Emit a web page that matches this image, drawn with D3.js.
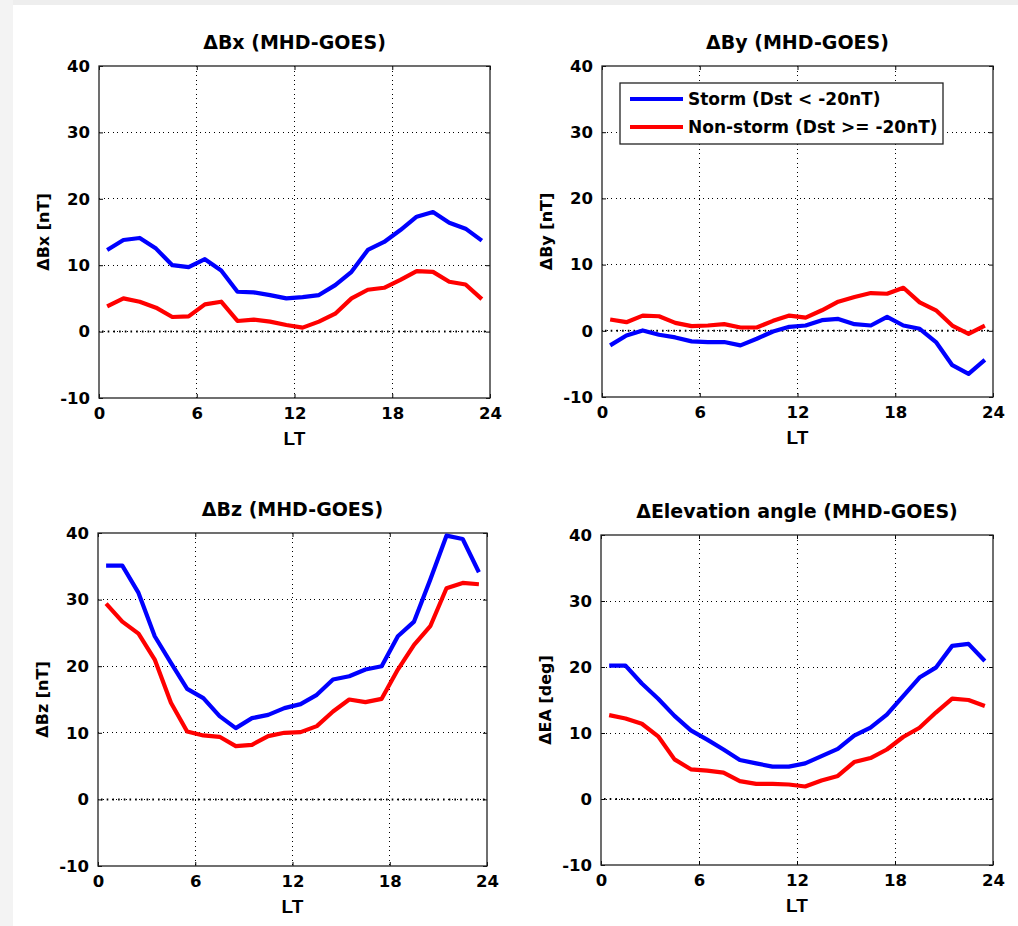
<!DOCTYPE html>
<html>
<head>
<meta charset="utf-8">
<script src="https://cdn.jsdelivr.net/npm/d3@7"></script>
<style>
  html, body { margin: 0; padding: 0; background: #ffffff; }
  svg { display: block; }
  text { font-family: "DejaVu Sans", "Liberation Sans", Arial, sans-serif; }
</style>
</head>
<body>
<script>
// ---------------- data ----------------
const hours = [0.5,1.5,2.5,3.5,4.5,5.5,6.5,7.5,8.5,9.5,10.5,11.5,12.5,13.5,14.5,15.5,16.5,17.5,18.5,19.5,20.5,21.5,22.5,23.5];
const xTicks = [0, 6, 12, 18, 24];
const yTicks = [-10, 0, 10, 20, 30, 40];

const bxStorm    = [12.3,13.8,14.1,12.5,10.0,9.7,10.9,9.2,6.0,5.9,5.5,5.0,5.2,5.5,7.0,9.0,12.3,13.5,15.3,17.3,18.0,16.4,15.5,13.7];
const bxNonStorm = [3.8,5.0,4.5,3.6,2.2,2.3,4.1,4.5,1.6,1.8,1.5,1.0,0.6,1.5,2.7,5.0,6.3,6.6,7.8,9.1,9.0,7.5,7.1,4.9];

const byStorm    = [-2.2,-0.7,0.05,-0.6,-1.0,-1.6,-1.7,-1.7,-2.2,-1.2,-0.1,0.6,0.8,1.6,1.8,1.0,0.8,2.1,0.8,0.3,-1.7,-5.2,-6.5,-4.4];
const byNonStorm = [1.7,1.3,2.3,2.2,1.2,0.7,0.8,1.0,0.5,0.5,1.5,2.3,2.0,3.1,4.4,5.1,5.7,5.6,6.5,4.3,3.1,0.8,-0.45,0.8];

const bzStorm    = [35.1,35.1,31.0,24.5,20.5,16.6,15.2,12.5,10.7,12.2,12.7,13.7,14.3,15.7,18.0,18.5,19.5,20.0,24.5,26.7,33.0,39.6,39.1,34.1];
const bzNonStorm = [29.4,26.7,24.9,21.0,14.5,10.2,9.6,9.4,8.0,8.2,9.5,10.0,10.1,11.0,13.2,15.0,14.6,15.1,19.5,23.2,26.0,31.7,32.5,32.3];

const eaStorm    = [20.2,20.2,17.5,15.2,12.6,10.4,9.0,7.5,5.9,5.4,4.9,4.9,5.4,6.5,7.6,9.6,10.8,12.8,15.6,18.4,19.9,23.2,23.5,20.9];
const eaNonStorm = [12.7,12.2,11.4,9.5,6.0,4.5,4.3,4.0,2.7,2.3,2.3,2.2,1.9,2.8,3.5,5.6,6.2,7.5,9.4,10.8,13.1,15.2,15.0,14.1];

const panelTitles = ["\u0394Bx (MHD-GOES)", "\u0394By (MHD-GOES)", "\u0394Bz (MHD-GOES)", "\u0394Elevation angle (MHD-GOES)"];
const yLabels = ["\u0394Bx [nT]", "\u0394By [nT]", "\u0394Bz [nT]", "\u0394EA [deg]"];
const xLabel = "LT";
const seriesNames = ["Storm (Dst < -20nT)", "Non-storm (Dst >= -20nT)"];
const seriesColors = ["#0000ff", "#ff0000"];

// ---------------- layout ----------------
const W = 1018, H = 926;
const svg = d3.select("body").append("svg").attr("width", W).attr("height", H);

// light grey frame of the reference picture
svg.append("rect").attr("x", 0).attr("y", 0).attr("width", W).attr("height", 5).attr("fill", "#eeeeee");
svg.append("rect").attr("x", 0).attr("y", 0).attr("width", 13).attr("height", H).attr("fill", "#f3f3f3");

const panels = [
  {l: 99,  t: 66,  r: 490, b: 398, s: bxStorm, n: bxNonStorm, legend: false},
  {l: 602, t: 66,  r: 993, b: 397, s: byStorm, n: byNonStorm, legend: true},
  {l: 98,  t: 533, r: 487, b: 866, s: bzStorm, n: bzNonStorm, legend: false},
  {l: 601, t: 535, r: 993, b: 865, s: eaStorm, n: eaNonStorm, legend: false}
];

const BOLD = "bold";

panels.forEach((p, i) => {
  const x = d3.scaleLinear().domain([0, 24]).range([p.l, p.r]);
  const y = d3.scaleLinear().domain([-10, 40]).range([p.b, p.t]);
  const g = svg.append("g");

  // grid (dotted)
  g.selectAll(".vg").data(xTicks.filter(d => d > 0 && d < 24)).enter().append("line")
    .attr("x1", d => x(d)).attr("x2", d => x(d)).attr("y1", p.t).attr("y2", p.b)
    .attr("stroke", "#000").attr("stroke-width", 1).attr("stroke-dasharray", "1,3.6")
    .attr("shape-rendering", "crispEdges");
  g.selectAll(".hg").data(yTicks.filter(d => d > -10 && d < 40)).enter().append("line")
    .attr("x1", p.l).attr("x2", p.r).attr("y1", d => y(d)).attr("y2", d => y(d))
    .attr("stroke", "#000").attr("stroke-width", 1).attr("stroke-dasharray", "1,3.6")
    .attr("shape-rendering", "crispEdges");

  // zero reference line (denser dotted)
  g.append("line").attr("x1", p.l + 3).attr("x2", p.r).attr("y1", y(0)).attr("y2", y(0))
    .attr("stroke", "#000").attr("stroke-width", 2).attr("stroke-dasharray", "1.6,4.1");

  // axes
  const fmt = d => String(d);
  const xb = d3.axisBottom(x).tickValues(xTicks).tickSize(-4).tickPadding(9).tickFormat(fmt);
  const xt = d3.axisTop(x).tickValues(xTicks).tickSize(-4).tickFormat("");
  const yl = d3.axisLeft(y).tickValues(yTicks).tickSize(-4).tickPadding(9).tickFormat(fmt);
  const yr = d3.axisRight(y).tickValues(yTicks).tickSize(-4).tickFormat("");
  const styleAxis = sel => {
    sel.select(".domain").remove();
    sel.selectAll("line").attr("stroke", "#000");
    sel.selectAll("text").attr("fill", "#000").style("font-size", "16.5px").style("font-weight", BOLD)
      .style("font-family", "'DejaVu Sans', 'Liberation Sans', sans-serif");
  };
  g.append("g").attr("transform", `translate(0,${p.b})`).call(xb).call(styleAxis);
  g.append("g").attr("transform", `translate(0,${p.t})`).call(xt).call(styleAxis);
  g.append("g").attr("transform", `translate(${p.l},0)`).call(yl).call(styleAxis);
  g.append("g").attr("transform", `translate(${p.r},0)`).call(yr).call(styleAxis);

  // box
  g.append("rect").attr("x", p.l).attr("y", p.t).attr("width", p.r - p.l).attr("height", p.b - p.t)
    .attr("fill", "none").attr("stroke", "#222").attr("stroke-width", 1.3);

  // series lines
  const line = d3.line().x((d, k) => x(hours[k])).y(d => y(d));
  [p.s, p.n].forEach((vals, k) => {
    g.append("path").datum(vals).attr("d", line)
      .attr("fill", "none").attr("stroke", seriesColors[k]).attr("stroke-width", 4.2)
      .attr("stroke-linejoin", "round").attr("stroke-linecap", "butt");
  });

  // title
  g.append("text").attr("x", (p.l + p.r) / 2).attr("y", p.t - 17)
    .attr("text-anchor", "middle").style("font-size", "19px").style("font-weight", BOLD)
    .text(panelTitles[i]);

  // x label
  g.append("text").attr("x", (p.l + p.r) / 2).attr("y", p.b + 47)
    .attr("text-anchor", "middle").style("font-size", "19px").style("font-weight", BOLD)
    .style("font-family", "'Liberation Sans', Arial, sans-serif")
    .text(xLabel);

  // y label
  g.append("text").attr("transform", `translate(${p.l - 50},${(p.t + p.b) / 2}) rotate(-90)`)
    .attr("text-anchor", "middle").style("font-size", "16px").style("font-weight", BOLD)
    .text(yLabels[i]);

  // legend
  if (p.legend) {
    const lg = g.append("g");
    lg.append("rect").attr("x", 620).attr("y", 83).attr("width", 323).attr("height", 61)
      .attr("fill", "#fff").attr("stroke", "#222").attr("stroke-width", 1.3);
    seriesNames.forEach((name, k) => {
      const yy = 99 + k * 28;
      lg.append("line").attr("x1", 630).attr("x2", 683).attr("y1", yy).attr("y2", yy)
        .attr("stroke", seriesColors[k]).attr("stroke-width", 4.2);
      lg.append("text").attr("x", 688).attr("y", yy + 6)
        .style("font-size", "17px").style("font-weight", BOLD).text(name);
    });
  }
});
</script>
</body>
</html>
